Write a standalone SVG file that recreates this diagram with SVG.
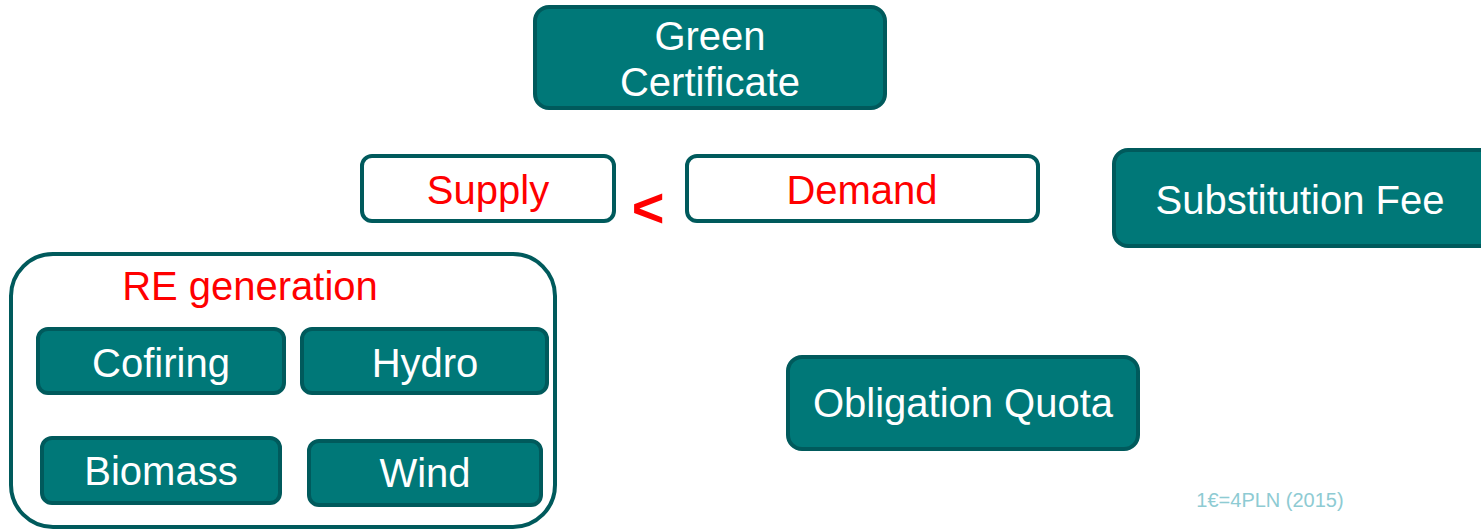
<svg xmlns="http://www.w3.org/2000/svg" width="1481" height="531" viewBox="0 0 1481 531">
<style>
.n{fill:#007878;stroke:#005a5c;stroke-width:4}
.w{fill:#ffffff;stroke:#005a5c;stroke-width:4}
.t{font-family:"Liberation Sans",Arial,sans-serif;font-size:40px;fill:#ffffff;text-anchor:middle}
.r{font-family:"Liberation Sans",Arial,sans-serif;font-size:40px;fill:#ff0000;text-anchor:middle}
</style>
<rect width="1481" height="531" fill="#ffffff"/>
<g id="green-certificate">
<rect class="n" x="535" y="7" width="350" height="101" rx="14"/>
<text class="t" x="710" y="50">Green</text>
<text class="t" x="710" y="96">Certificate</text>
</g>
<g id="supply">
<rect class="w" x="362" y="156" width="252" height="65" rx="10"/>
<text class="r" x="488" y="204">Supply</text>
</g>
<g id="less-than">
<text x="648" y="227" font-family="Liberation Sans,Arial,sans-serif" font-size="56" font-weight="bold" fill="#ff0000" text-anchor="middle">&lt;</text>
</g>
<g id="demand">
<rect class="w" x="687" y="156" width="351" height="65" rx="10"/>
<text class="r" x="862" y="204">Demand</text>
</g>
<g id="substitution-fee">
<rect class="n" x="1114" y="150" width="380" height="96" rx="14"/>
<text class="t" x="1300" y="214">Substitution Fee</text>
</g>
<g id="re-generation">
<rect class="w" x="11" y="254" width="544" height="273" rx="42"/>
<text class="r" x="250" y="300">RE generation</text>
</g>
<g id="cofiring">
<rect class="n" x="38" y="329" width="246" height="64" rx="10"/>
<text class="t" x="161" y="377">Cofiring</text>
</g>
<g id="hydro">
<rect class="n" x="302" y="329" width="245" height="64" rx="10"/>
<text class="t" x="425" y="377">Hydro</text>
</g>
<g id="biomass">
<rect class="n" x="42" y="438" width="238" height="65" rx="10"/>
<text class="t" x="161" y="485">Biomass</text>
</g>
<g id="wind">
<rect class="n" x="309" y="441" width="232" height="64" rx="10"/>
<text class="t" x="425" y="487">Wind</text>
</g>
<g id="obligation-quota">
<rect class="n" x="788" y="357" width="350" height="92" rx="14"/>
<text class="t" x="963" y="417">Obligation Quota</text>
</g>
<g id="connectors"></g>
<text x="1270" y="507" font-family="Liberation Sans,Arial,sans-serif" font-size="20" fill="#8ecbd3" text-anchor="middle">1€=4PLN (2015)</text>
</svg>
